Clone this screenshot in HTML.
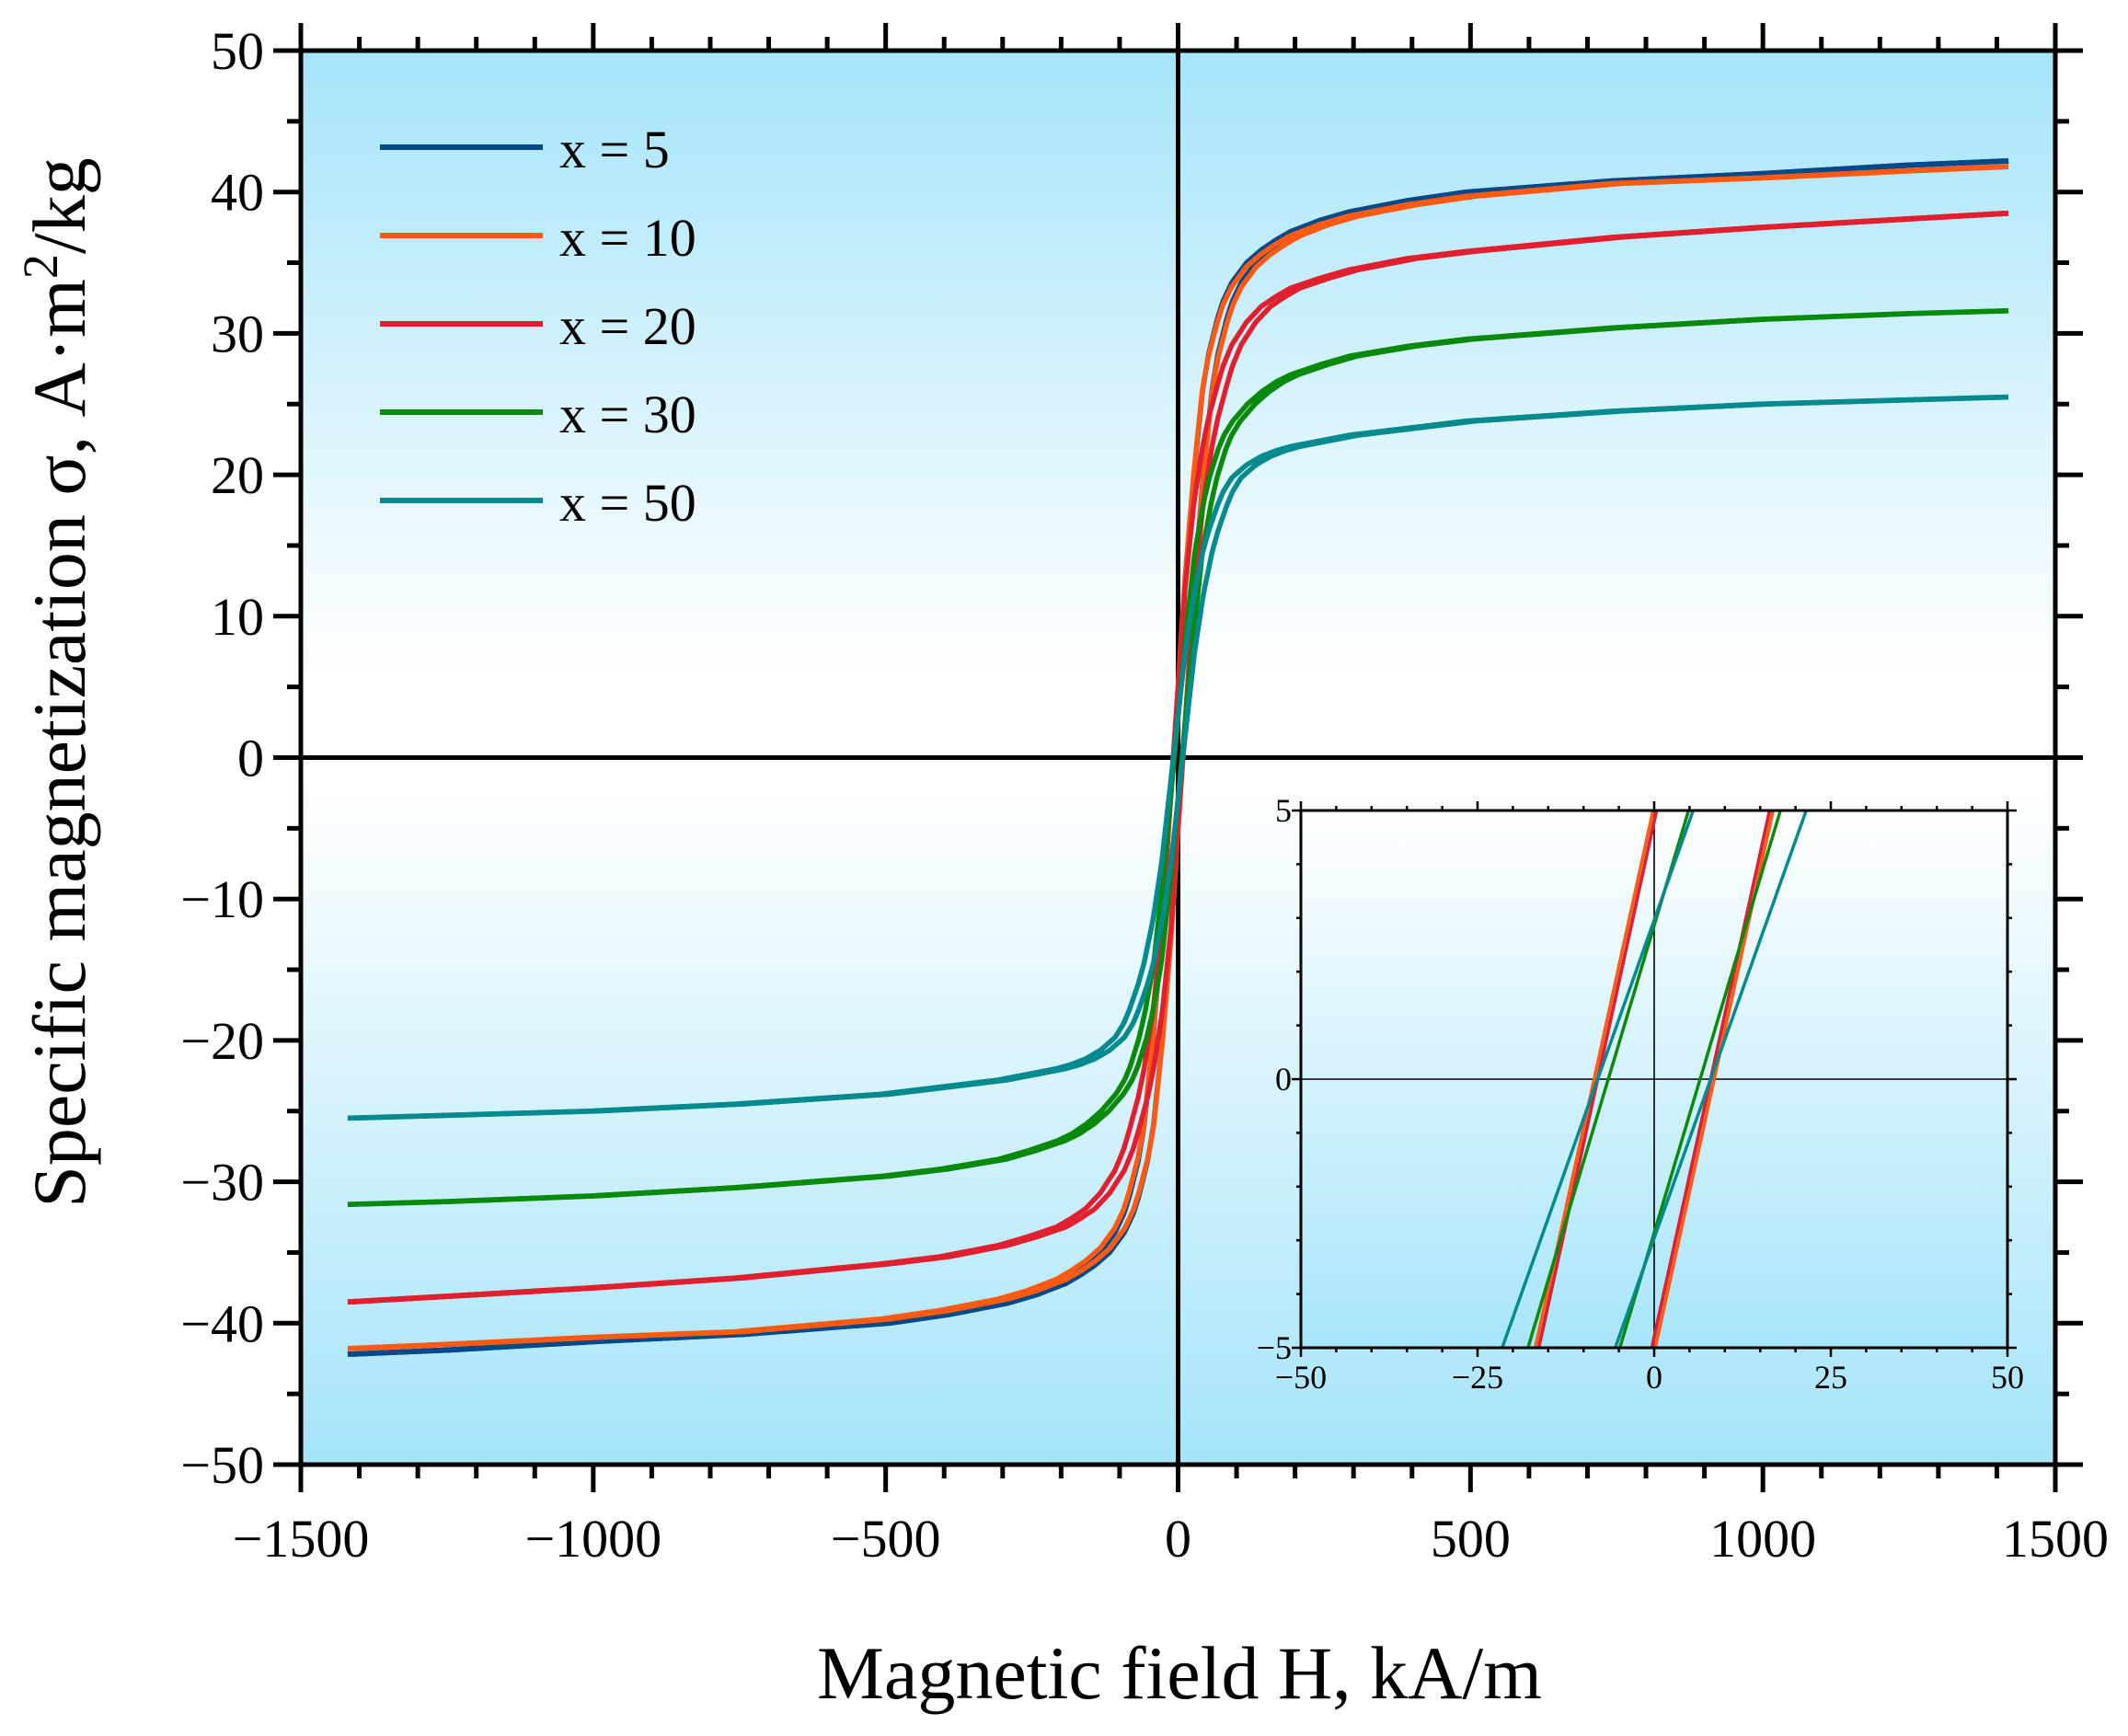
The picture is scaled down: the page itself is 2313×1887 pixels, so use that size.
<!DOCTYPE html>
<html><head><meta charset="utf-8"><style>
html,body{margin:0;padding:0;background:#fff;width:2313px;height:1887px;overflow:hidden;}
svg{display:block;font-family:"Liberation Serif",serif;}
</style></head><body>
<svg id="chart" width="2313" height="1887" viewBox="0 0 2313 1887" xmlns="http://www.w3.org/2000/svg">
<defs>
<linearGradient id="bg" x1="0" y1="0" x2="0" y2="1">
<stop offset="0" stop-color="#a5e4fa"/><stop offset="0.44" stop-color="#ffffff"/><stop offset="0.52" stop-color="#ffffff"/><stop offset="1" stop-color="#a5e4fa"/>
</linearGradient>
<linearGradient id="bgi" x1="0" y1="0" x2="0" y2="1">
<stop offset="0" stop-color="#ffffff"/><stop offset="1" stop-color="#a8e5fb"/>
</linearGradient>
<clipPath id="mainclip"><rect x="327" y="55" width="1907" height="1537"/></clipPath>
<clipPath id="insetclip"><rect x="1414" y="881" width="768" height="584"/></clipPath>
</defs>
<rect x="327" y="55" width="1907" height="1537" fill="url(#bg)"/>
<g id="main"></g>
<text x="1282" y="1846" font-size="82" text-anchor="middle">Magnetic field H, kA/m</text>
<text transform="translate(92,742) rotate(-90)" font-size="82" text-anchor="middle">Specific magnetization σ, A·m<tspan dy="-30" font-size="54">2</tspan><tspan dy="30">/kg</tspan></text>
</svg>
<script>
const H_POINTS = [0,10,20,35,50,60,75,85,100,125,150,175,200,250,300,400,500,750,1000,1250,1420];
const S_X5  = [0,6,12.5,20,26,28.5,31,32.3,33.6,35,35.9,36.6,37.2,38,38.6,39.4,40,40.8,41.3,41.9,42.2];
const S_X10 = [0,6,12.5,20,26,28.3,30.7,32,33.3,34.7,35.6,36.3,36.9,37.7,38.3,39.1,39.7,40.6,41,41.5,41.8];
const S_X20 = [0,6,12,18,22,24,26.3,27.7,29.2,30.8,31.9,32.6,33.2,33.9,34.5,35.3,35.8,36.8,37.5,38.1,38.5];
const S_X30 = [0,4.4,8.8,14.5,18,19.8,21.8,22.8,23.8,25,25.9,26.6,27.1,27.8,28.4,29.1,29.6,30.4,31,31.4,31.6];
const S_X50 = [0,3.7,7.4,11.5,14.5,16,17.8,18.8,19.8,20.7,21.3,21.7,22,22.4,22.8,23.3,23.8,24.5,25,25.3,25.5];
const COERCIVITY = [8,8.5,8,6.5,8];
const SERIES_LABELS = ["x = 5","x = 10","x = 20","x = 30","x = 50"];
const COLORS = ["#004a8a","#ff5a14","#e0202e","#0a8a0a","#058a90"];
const X_TICKS = [-1500,-1000,-500,0,500,1000,1500];
const Y_TICKS = [50,40,30,20,10,0,-10,-20,-30,-40,-50];
const INSET_X_TICKS = [-50,-25,0,25,50];
const INSET_Y_TICKS = [5,0,-5];

const NS="http://www.w3.org/2000/svg";
const svg=document.getElementById('chart');
const g=document.getElementById('main');
function el(t,a,p){const e=document.createElementNS(NS,t);for(const k in a)e.setAttribute(k,a[k]);(p||g).appendChild(e);return e;}
const L=327,R=2234,T=55,B=1592;
const xs=v=>L+(v+1500)/3000*(R-L);
const ys=v=>T+(50-v)/100*(B-T);
const IL=1414,IR=2182,IT=881,IB=1465;
const ixs=v=>IL+(v+50)/100*(IR-IL);
const iys=v=>IT+(5-v)/10*(IB-IT);
const ALL=[S_X5,S_X10,S_X20,S_X30,S_X50];

function S(arr,h){const s=h<0?-1:1;const a=Math.abs(h);
 if(a>=H_POINTS[H_POINTS.length-1])return s*arr[arr.length-1];
 for(let i=1;i<H_POINTS.length;i++){if(a<=H_POINTS[i]){const t=(a-H_POINTS[i-1])/(H_POINTS[i]-H_POINTS[i-1]);return s*(arr[i-1]+t*(arr[i]-arr[i-1]));}}}
function loopPath(arr,hc,fx,fy,hmin,hmax,step){
 let d='';
 for(let h=hmax;h>=hmin;h-=step){d+=(d?'L':'M')+fx(h).toFixed(1)+','+fy(S(arr,h+hc)).toFixed(1);}
 let d2='';
 for(let h=hmin;h<=hmax;h+=step){d2+=(d2?'L':'M')+fx(h).toFixed(1)+','+fy(S(arr,h-hc)).toFixed(1);}
 return d+' '+d2;
}

for(let v=-1500;v<=1500;v+=100){const maj=v%500===0;const x=xs(v);const len=maj?30:15;
 const t1=el('line',{x1:x,y1:B,x2:x,y2:B+len,stroke:'#000','stroke-width':5});
 
 
 const t2=el('line',{x1:x,y1:T,x2:x,y2:T-len,stroke:'#000','stroke-width':5});
 
 }
for(let v=-50;v<=50;v+=5){const maj=v%10===0;const y=ys(v);const len=maj?30:15;
 const t1=el('line',{x1:L,y1:y,x2:L-len,y2:y,stroke:'#000','stroke-width':5});
 
 
 const t2=el('line',{x1:R,y1:y,x2:R+len,y2:y,stroke:'#000','stroke-width':5});
 
 }
X_TICKS.forEach(v=>{const t=el('text',{x:xs(v),y:1692,'font-size':58,'text-anchor':'middle'});
 
 
 t.textContent=v<0?'\u2212'+(-v):String(v);});
Y_TICKS.forEach(v=>{const t=el('text',{x:287,y:ys(v)+20,'font-size':58,'text-anchor':'end'});
 
 
 t.textContent=v<0?'\u2212'+(-v):String(v);});

const zx=el('line',{x1:xs(0),y1:T,x2:xs(0),y2:B,stroke:'#000','stroke-width':5});


const zy=el('line',{x1:L,y1:ys(0),x2:R,y2:ys(0),stroke:'#000','stroke-width':5});



const mg=el('g',{'clip-path':'url(#mainclip)'});


ALL.forEach((arr,i)=>{const p=el('path',{d:loopPath(arr,COERCIVITY[i],xs,ys,-1420,1420,2),fill:'none',stroke:COLORS[i],'stroke-width':5.5,'stroke-linejoin':'round'},mg);
 
 });

const fr=el('rect',{x:L,y:T,width:R-L,height:B-T,fill:'none',stroke:'#000','stroke-width':5});



ALL.forEach((arr,i)=>{const y=160+i*96;
 const ln=el('line',{x1:413,y1:y,x2:590,y2:y,stroke:COLORS[i],'stroke-width':6});
 
 
 const t=el('text',{x:608,y:y+22,'font-size':58});
 
 
 t.textContent=SERIES_LABELS[i];});

const ib=el('rect',{x:IL,y:IT,width:IR-IL,height:IB-IT,fill:'url(#bgi)'});


const izx=el('line',{x1:ixs(0),y1:IT,x2:ixs(0),y2:IB,stroke:'#000','stroke-width':1.6});


const izy=el('line',{x1:IL,y1:iys(0),x2:IR+10,y2:iys(0),stroke:'#000','stroke-width':1.6});


const ig=el('g',{'clip-path':'url(#insetclip)'});


ALL.forEach((arr,i)=>{const p=el('path',{d:loopPath(arr,COERCIVITY[i],ixs,iys,-50,50,0.5),fill:'none',stroke:COLORS[i],'stroke-width':3.5},ig);
 
 });
for(let v=-50;v<=50;v+=5){const maj=v%25===0;const x=ixs(v);const len=maj?10:5;
 const a=el('line',{x1:x,y1:IB,x2:x,y2:IB+len,stroke:'#000','stroke-width':2.5});
 
 
 const b=el('line',{x1:x,y1:IT,x2:x,y2:IT-len,stroke:'#000','stroke-width':2.5});
 
 }
for(let v=-5;v<=5;v+=1){const maj=v%5===0;const y=iys(v);const len=maj?10:5;
 const a=el('line',{x1:IL,y1:y,x2:IL-len,y2:y,stroke:'#000','stroke-width':2.5});
 
 
 const b=el('line',{x1:IR,y1:y,x2:IR+len,y2:y,stroke:'#000','stroke-width':2.5});
 
 }
const ifr=el('rect',{x:IL,y:IT,width:IR-IL,height:IB-IT,fill:'none',stroke:'#000','stroke-width':3});


INSET_X_TICKS.forEach(v=>{const t=el('text',{x:ixs(v),y:IB+44,'font-size':36,'text-anchor':'middle'});
 
 
 t.textContent=v<0?'\u2212'+(-v):String(v);});
INSET_Y_TICKS.forEach(v=>{const t=el('text',{x:IL-10,y:iys(v)+12,'font-size':36,'text-anchor':'end'});
 
 
 t.textContent=v<0?'\u2212'+(-v):String(v);});
</script>
</body></html>
